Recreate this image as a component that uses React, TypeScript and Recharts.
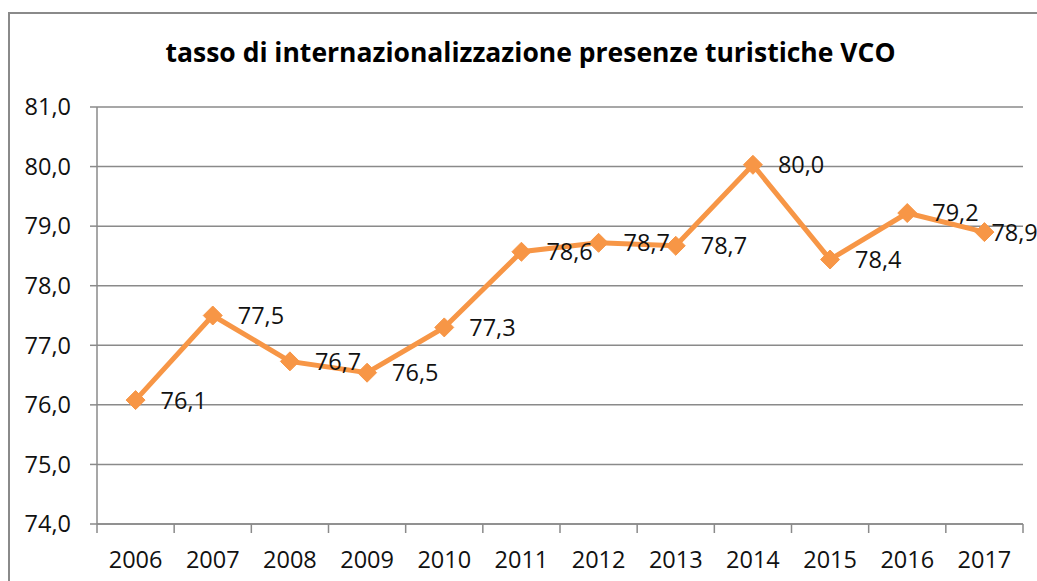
import { CartesianGrid, ComposedChart, LabelList, Line, XAxis, YAxis } from "recharts";

const years = ["2006", "2007", "2008", "2009", "2010", "2011", "2012", "2013", "2014", "2015", "2016", "2017"];
const rates = [76.08, 77.5, 76.73, 76.54, 77.3, 78.57, 78.72, 78.67, 80.03, 78.44, 79.22, 78.9];
const yTicks = [74, 75, 76, 77, 78, 79, 80, 81];

const data = years.map((year, i) => ({ year, rate: rates[i] }));

const fmt = (v: number) => v.toFixed(1).replace(".", ",");

const FONT = "'Open Sans', sans-serif";
const GRAY = "#8a8a8a";
const ORANGE = "#F79646";

// plot area runs from x=97 to x=1023
const PLOT_W = 926;
const HALF_BAND = PLOT_W / years.length / 2;

const Diamond = ({ cx, cy }: { cx?: number; cy?: number }) => {
  if (typeof cx !== "number" || typeof cy !== "number") return null;
  const r = 9.5;
  return (
    <path
      d={`M${cx},${cy - r}L${cx + r},${cy}L${cx},${cy + r}L${cx - r},${cy}Z`}
      fill={ORANGE}
      stroke={ORANGE}
    />
  );
};

const YearTick = (props: any) => {
  const { x, y, payload, index } = props;
  return (
    <g>
      <line x1={x - HALF_BAND} x2={x - HALF_BAND} y1={y - 8} y2={y + 1} stroke={GRAY} strokeWidth={1.5} />
      {index === years.length - 1 && (
        <line x1={x + HALF_BAND} x2={x + HALF_BAND} y1={y - 8} y2={y + 1} stroke={GRAY} strokeWidth={1.5} />
      )}
      <text x={x} y={y + 36} textAnchor="middle" fill="#111" fontFamily={FONT} fontSize={23.5}>
        {payload.value}
      </text>
    </g>
  );
};

// Excel squeezes the last label toward its point near the right edge
const PointLabel = (props: any) => {
  const { x, y, value, index } = props;
  if (typeof x !== "number" || typeof y !== "number") return null;
  const gap = index === years.length - 1 ? 7 : 25;
  return (
    <text x={x + gap} y={y} dy="0.36em" fill="#111" fontFamily={FONT} fontSize={23.5}>
      {fmt(Number(value))}
    </text>
  );
};

export default function App() {
  return (
    <div style={{ position: "absolute", left: 0, top: 0, width: 1037, height: 581, overflow: "hidden", background: "#fff" }}>
      <div
        style={{
          position: "absolute",
          left: 8,
          top: 12,
          width: 1100,
          height: 700,
          border: `2.5px solid ${GRAY}`,
        }}
      />
      <div
        style={{
          position: "absolute",
          left: 12,
          top: 34,
          width: 1037,
          textAlign: "center",
          fontFamily: FONT,
          fontWeight: 700,
          fontSize: 26.5,
          color: "#000",
        }}
      >
        tasso di internazionalizzazione&nbsp;presenze turistiche VCO
      </div>
      <div style={{ position: "absolute", left: 0, top: 0 }}>
        <ComposedChart width={1037} height={581} data={data} margin={{ top: 107, right: 14, bottom: 27, left: 10 }}>
          <CartesianGrid vertical={false} stroke={GRAY} strokeWidth={1.5} />
          <XAxis
            dataKey="year"
            height={30}
            padding={{ left: HALF_BAND, right: HALF_BAND }}
            axisLine={{ stroke: GRAY, strokeWidth: 1.5 }}
            tickLine={false}
            tick={<YearTick />}
            interval={0}
          />
          <YAxis
            width={87}
            domain={[74, 81]}
            ticks={yTicks}
            interval={0}
            tickFormatter={fmt}
            axisLine={{ stroke: GRAY, strokeWidth: 1.5 }}
            tickLine={{ stroke: GRAY, strokeWidth: 1.5 }}
            tickSize={7}
            tickMargin={19}
            tick={{ fill: "#111", fontFamily: FONT, fontSize: 23.5 }}
          />
          <Line
            dataKey="rate"
            stroke={ORANGE}
            strokeWidth={5}
            dot={<Diamond />}
            activeDot={false}
            isAnimationActive={false}
          >
            <LabelList dataKey="rate" content={<PointLabel />} />
          </Line>
        </ComposedChart>
      </div>
    </div>
  );
}
